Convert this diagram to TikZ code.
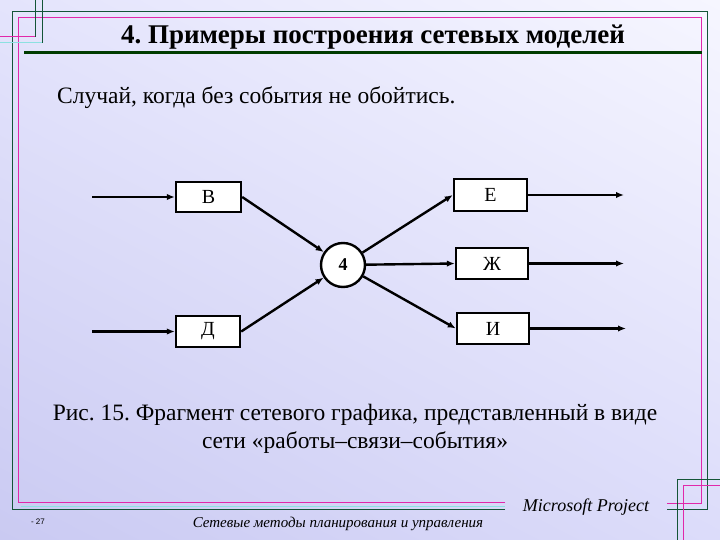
\documentclass[tikz,border=0pt]{standalone}
\usepackage{fontspec}
\setmainfont{Liberation Serif}
\setsansfont{Liberation Sans}
\usetikzlibrary{arrows.meta,shadings}
\definecolor{bgA}{RGB}{246,246,255}
\definecolor{bgB}{RGB}{228,228,252}
\definecolor{bgC}{RGB}{202,202,242}
\definecolor{bgD}{RGB}{220,220,250}
\definecolor{frgreen}{RGB}{20,85,55}
\definecolor{frmag}{RGB}{225,40,170}
\definecolor{frcyan}{RGB}{140,225,225}
\definecolor{bargreen}{RGB}{0,60,0}
\tikzset{
  workbox/.style={draw=black, fill=white, line width=2.4pt, inner sep=0pt, font=\fontsize{20}{22}\selectfont},
  eventnode/.style={circle, draw=black, fill=white, line width=2.4pt, minimum size=44pt, inner sep=0pt, font=\bfseries\fontsize{18}{20}\selectfont},
  conn/.style={line width=2.4pt, -{Latex[length=8pt,width=6.5pt]}},
  gline/.style={frgreen, line width=1pt},
  mline/.style={frmag, line width=1pt},
  cline/.style={frcyan, line width=1pt}
}
\frenchspacing
\begin{document}
\begin{tikzpicture}[x=1pt,y=-1pt]
\useasboundingbox (0,0) rectangle (720,540);
\shade[upper left=bgB, upper right=bgA, lower left=bgC, lower right=bgD] (0,0) rectangle (720,540);
% frame lines
\draw[gline] (505,509) -- (12,509) -- (12,12) -- (707,12) -- (707,509) -- (667,509);
\draw[mline] (505,502) -- (18,502) -- (18,18) -- (701,18) -- (701,503) -- (667,503);
\draw[cline] (21,506) -- (505,506);
% top-left corner decoration
\draw[gline] (35,0) -- (35,37);
\draw[gline] (42,0) -- (42,43);
\draw[mline] (0,37) -- (35,37);
\draw[cline] (0,43) -- (42,43);
% bottom-right corner decoration
\draw[gline] (677,540) -- (677,479) -- (720,479);
\draw[mline] (683,540) -- (683,485) -- (720,485);
% title
\node[font=\bfseries\fontsize{27}{30}\selectfont, anchor=base] (title) at (373,44) {4. Примеры построения сетевых моделей};
\draw[bargreen, line width=3.5pt] (24,52.5) -- (702,52.5);
% subtitle
\node[font=\fontsize{23.5}{26}\selectfont, anchor=base west, inner sep=0pt] (sub) at (57,104) {Случай, когда без события не обойтись.};
% nodes
\node[workbox, minimum width=65pt, minimum height=30pt] (B) at (208.5,197) {В};
\node[workbox, minimum width=64pt, minimum height=31pt] (D) at (208,331.5) {Д};
\node[eventnode] (ev) at (343,265) {4};
\node[workbox, minimum width=73pt, minimum height=32pt] (E) at (490.5,195) {Е};
\node[workbox, minimum width=72pt, minimum height=31pt] (Zh) at (492,263.5) {Ж};
\node[workbox, minimum width=72pt, minimum height=31pt] (I) at (493,328.5) {И};
\coordinate (inB) at (92,197);
\coordinate (inD) at (92,331.5);
\coordinate (outE) at (624,195);
\coordinate (outZh) at (624,263.5);
\coordinate (outI) at (626,328.5);
% connectors
\draw[conn] (inB) -- (B.west);
\draw[conn] (inD) -- (D.west);
\draw[conn] (B.east) -- (ev);
\draw[conn] (D.east) -- (ev);
\draw[conn] (ev) -- (E.west);
\draw[conn] (ev) -- (Zh.west);
\draw[conn] (ev) -- (I.west);
\draw[conn] (E.east) -- (outE);
\draw[conn] (Zh.east) -- (outZh);
\draw[conn] (I.east) -- (outI);
% caption
\node[font=\fontsize{23.5}{26}\selectfont, anchor=base] (cap1) at (355,420) {Рис. 15. Фрагмент сетевого графика, представленный в виде};
\node[font=\fontsize{23.5}{26}\selectfont, anchor=base] (cap2) at (355,448) {сети «работы–связи–события»};
% footer
\node[font=\sffamily\fontsize{8}{9}\selectfont, anchor=base] (pg) at (38,524) {- 27};
\node[font=\itshape\fontsize{15}{17}\selectfont, anchor=base] (foot) at (338,527) {Сетевые методы планирования и управления};
\node[font=\itshape\fontsize{18}{20}\selectfont, anchor=base] (ms) at (586,511) {Microsoft Project};
\end{tikzpicture}
\end{document}
